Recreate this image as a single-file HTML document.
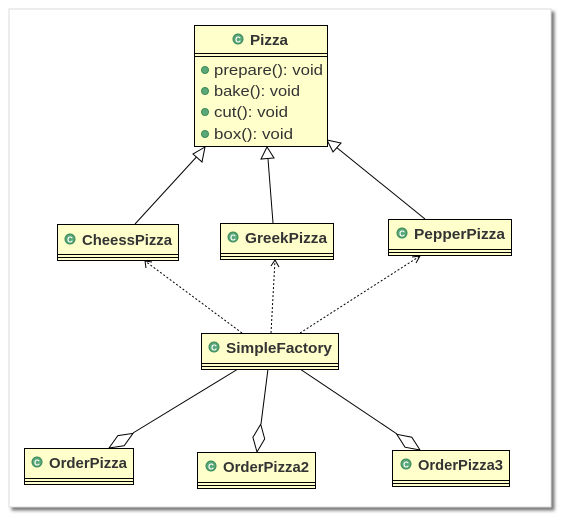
<!DOCTYPE html>
<html><head><meta charset="utf-8"><style>
body{margin:0;background:#fff;width:562px;height:518px;overflow:hidden}
svg text{font-family:"Liberation Sans","DejaVu Sans",sans-serif}
</style></head><body>
<svg width="562" height="518" viewBox="0 0 562 518" xmlns="http://www.w3.org/2000/svg">
<defs>
<filter id="sh" x="-5%" y="-5%" width="115%" height="115%"><feDropShadow dx="3" dy="3" stdDeviation="1.5" flood-color="#555" flood-opacity="0.8"/></filter>
<g id="ic"><circle r="5.5" fill="#3c8a5a"/><circle r="4.5" fill="#5aa878"/><text x="0" y="3.3" font-size="8" font-weight="bold" fill="#fff" text-anchor="middle">C</text></g>
</defs>
<rect x="9" y="9" width="542" height="498" fill="#fff" stroke="#ddd" filter="url(#sh)"/>
<g stroke="#000" stroke-width="1" fill="none">
<line x1="135" y1="224" x2="201" y2="152"/>
<polygon points="205,147 193,154 202,162" fill="#fff"/>
<line x1="273" y1="223" x2="268" y2="159"/>
<polygon points="267,147 261,159 274,158" fill="#fff"/>
<line x1="425" y1="219" x2="336" y2="147"/>
<polygon points="327,140 333,152 341,143" fill="#fff"/>
<g stroke-dasharray="2,2">
<line x1="242" y1="333" x2="145" y2="261"/>
<line x1="271" y1="333" x2="275" y2="260"/>
<line x1="300" y1="333" x2="420" y2="256"/>
</g>
<polyline points="146,268 145,261 152,262"/>
<polyline points="271,266 275,260 279,267"/>
<polyline points="412,257 420,256 416,263"/>
<line x1="238" y1="369" x2="133" y2="433"/>
<polygon points="109,448 117.9,435.6 133,433.4 124.1,445.8" fill="#fff"/>
<line x1="268" y1="369" x2="261" y2="424"/>
<polygon points="257,452 252.9,437.3 260.7,424.3 264.7,438.9" fill="#fff"/>
<line x1="300" y1="369" x2="397" y2="434"/>
<polygon points="420,450 405,447.2 396.8,434.3 411.8,437.2" fill="#fff"/>
</g>
<g stroke="#000" fill="#ffffcc">
<rect x="194.5" y="25.5" width="133" height="121"/>
<rect x="57.5" y="224.5" width="121" height="36"/>
<rect x="220.5" y="223.5" width="113" height="36"/>
<rect x="388.5" y="219.5" width="123" height="36"/>
<rect x="201.5" y="333.5" width="137" height="36"/>
<rect x="24.5" y="448.5" width="109" height="36"/>
<rect x="197.5" y="452.5" width="118" height="36"/>
<rect x="392.5" y="450.5" width="117" height="36"/>
</g>
<g stroke="#000">
<line x1="194" y1="53.5" x2="327" y2="53.5"/><line x1="194" y1="56.5" x2="327" y2="56.5"/>
<line x1="57" y1="254.5" x2="178" y2="254.5"/><line x1="57" y1="257.5" x2="178" y2="257.5"/>
<line x1="220" y1="253.5" x2="333" y2="253.5"/><line x1="220" y1="256.5" x2="333" y2="256.5"/>
<line x1="388" y1="249.5" x2="511" y2="249.5"/><line x1="388" y1="252.5" x2="511" y2="252.5"/>
<line x1="201" y1="363.5" x2="338" y2="363.5"/><line x1="201" y1="366.5" x2="338" y2="366.5"/>
<line x1="24" y1="478.5" x2="133" y2="478.5"/><line x1="24" y1="481.5" x2="133" y2="481.5"/>
<line x1="197" y1="482.5" x2="315" y2="482.5"/><line x1="197" y1="485.5" x2="315" y2="485.5"/>
<line x1="392" y1="480.5" x2="509" y2="480.5"/><line x1="392" y1="483.5" x2="509" y2="483.5"/>
</g>
<g font-size="15" font-weight="bold" fill="#333" lengthAdjust="spacingAndGlyphs">
<use href="#ic" x="238" y="39"/><text x="250" y="45" textLength="38" lengthAdjust="spacingAndGlyphs">Pizza</text>
<use href="#ic" x="70" y="239"/><text x="82" y="245" textLength="90" lengthAdjust="spacingAndGlyphs">CheessPizza</text>
<use href="#ic" x="233" y="237"/><text x="245" y="243" textLength="82" lengthAdjust="spacingAndGlyphs">GreekPizza</text>
<use href="#ic" x="402" y="233"/><text x="414" y="239" textLength="91" lengthAdjust="spacingAndGlyphs">PepperPizza</text>
<use href="#ic" x="214" y="347"/><text x="226" y="353" textLength="106" lengthAdjust="spacingAndGlyphs">SimpleFactory</text>
<use href="#ic" x="37" y="462"/><text x="49" y="468" textLength="78" lengthAdjust="spacingAndGlyphs">OrderPizza</text>
<use href="#ic" x="211" y="466"/><text x="223" y="472" textLength="86" lengthAdjust="spacingAndGlyphs">OrderPizza2</text>
<use href="#ic" x="406" y="464"/><text x="418" y="470" textLength="85" lengthAdjust="spacingAndGlyphs">OrderPizza3</text>
</g>
<g font-size="15" fill="#333">
<circle cx="205" cy="70" r="3.5" fill="#5aa878" stroke="#3c8a5a"/><text x="214" y="75" textLength="109" lengthAdjust="spacingAndGlyphs">prepare(): void</text>
<circle cx="205" cy="91" r="3.5" fill="#5aa878" stroke="#3c8a5a"/><text x="214" y="96" textLength="86" lengthAdjust="spacingAndGlyphs">bake(): void</text>
<circle cx="205" cy="112" r="3.5" fill="#5aa878" stroke="#3c8a5a"/><text x="214" y="117" textLength="74" lengthAdjust="spacingAndGlyphs">cut(): void</text>
<circle cx="205" cy="134" r="3.5" fill="#5aa878" stroke="#3c8a5a"/><text x="214" y="139" textLength="79" lengthAdjust="spacingAndGlyphs">box(): void</text>
</g>
</svg>
</body></html>
